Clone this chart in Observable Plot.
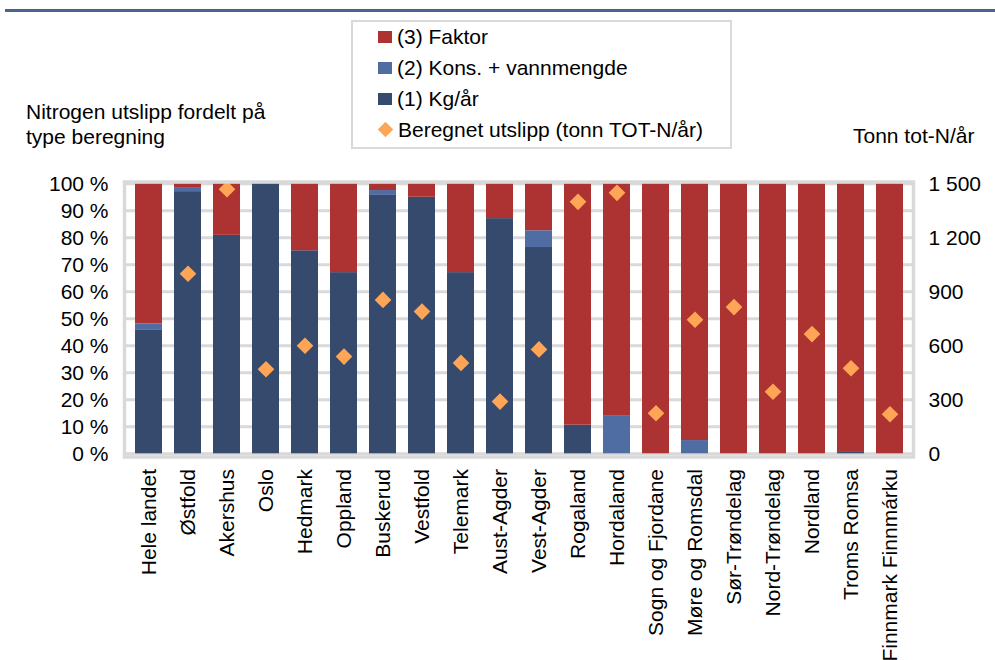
<!DOCTYPE html>
<html>
<head>
<meta charset="utf-8">
<script src="https://cdn.jsdelivr.net/npm/d3@7"></script>
<script src="https://cdn.jsdelivr.net/npm/@observablehq/plot@0.6"></script>
<style>
  html, body { margin: 0; padding: 0; background: #fff; }
  body { width: 995px; height: 660px; position: relative; overflow: hidden;
         font-family: "Liberation Sans", Arial, sans-serif; color: #000; }
  .abs { position: absolute; }
  #topline { left: 5px; top: 8.5px; width: 990px; height: 3px; background: #4a6491; }
  #lefttitle { left: 26px; top: 99px; font-size: 21px; line-height: 25px; white-space: nowrap; }
  #righttitle { left: 853px; top: 122.5px; font-size: 21px; line-height: 25px; white-space: nowrap; }
  #legend { left: 351px; top: 20px; width: 377px; height: 125px; border: 2px solid #d9d9d9; }
  .item { position: absolute; left: 25px; height: 27px; display: flex; align-items: center;
          font-size: 21px; white-space: nowrap; }
  .sw { width: 14px; height: 12px; margin-right: 5px; flex: none; }
  .dia { width: 11px; height: 11px; transform: rotate(45deg); margin: 0 7px 0 2px; flex: none; }
  #chart { left: 0; top: 0; }
</style>
</head>
<body>
<div id="topline" class="abs"></div>
<div id="lefttitle" class="abs">Nitrogen utslipp fordelt på<br>type beregning</div>
<div id="righttitle" class="abs">Tonn tot-N/år</div>
<div id="legend" class="abs"></div>
<div id="chart" class="abs"></div>
<script>
// ---- data ----
const categories = ["Hele landet","Østfold","Akershus","Oslo","Hedmark","Oppland","Buskerud","Vestfold","Telemark","Aust-Agder","Vest-Agder","Rogaland","Hordaland","Sogn og Fjordane","Møre og Romsdal","Sør-Trøndelag","Nord-Trøndelag","Nordland","Troms Romsa","Finnmark Finnmárku"];
const kgAar  = [45.7, 97.1, 80.9, 100, 75.2, 67.1, 95.7, 95.0, 67.1, 87.1, 76.4, 10.6, 0, 0, 0, 0, 0, 0, 0.5, 0];
const kons   = [2.4, 1.5, 0, 0, 0, 0, 1.8, 0, 0, 0, 6.2, 0, 13.9, 0, 4.9, 0, 0, 0, 0, 0];
const faktor = [51.9, 1.4, 19.1, 0, 24.8, 32.9, 2.5, 5.0, 32.9, 12.9, 17.4, 89.4, 86.1, 100, 95.1, 100, 100, 100, 99.5, 100];
const beregnet = [null, 1000, 1470, 470, 600, 540, 855, 790, 505, 290, 580, 1400, 1450, 225, 745, 815, 345, 665, 475, 220];
const seriesNames = ["(1) Kg/år", "(2) Kons. + vannmengde", "(3) Faktor"];
const seriesColors = ["#364a6d", "#4f6ca3", "#ad3333"];
const pointName = "Beregnet utslipp (tonn TOT-N/år)";
const pointColor = "#ffa556";
const leftTicks = [0,10,20,30,40,50,60,70,80,90,100];
const rightTicks = [0,300,600,900,1200,1500];
const rightMax = 1500;

// ---- tables ----
const seriesValues = [kgAar, kons, faktor];
const bars = [];
seriesValues.forEach((vals, s) => vals.forEach((v, i) => bars.push({cat: categories[i], series: seriesNames[s], value: v})));
const points = categories.map((c, i) => ({cat: c, value: beregnet[i]})).filter(d => d.value != null);

const fmt = d3.formatLocale({thousands: " ", grouping: [3], decimal: ","}).format(",d");

const chart = Plot.plot({
  width: 995,
  height: 660,
  marginLeft: 124,
  marginRight: 82,
  marginTop: 181.5,
  marginBottom: 203.5,
  style: {fontFamily: '"Liberation Sans", Arial, sans-serif', fontSize: "21px", color: "#000", background: "transparent"},
  x: {domain: categories, paddingInner: 0.31, paddingOuter: 0.2, label: null},
  y: {domain: [0, 100], insetTop: 1.8, insetBottom: 3.2, label: null},
  color: {domain: seriesNames, range: seriesColors},
  marks: [
    Plot.ruleY(leftTicks, {stroke: "#d9d9d9", strokeWidth: 3}),
    Plot.barY(bars, {x: "cat", y: "value", fill: "series", order: seriesNames}),
    Plot.dot(points, {x: "cat", y: d => d.value / rightMax * 100, symbol: "diamond2", r: 7.5, fill: pointColor, stroke: "none"}),
    Plot.frame({stroke: "#d9d9d9", strokeWidth: 3.5}),
    Plot.axisY(leftTicks, {anchor: "left", tickSize: 0, tickPadding: 16, tickFormat: d => d + " %", fontSize: 21, label: null}),
    Plot.axisY(rightTicks.map(v => v / rightMax * 100), {anchor: "right", tickSize: 0, tickPadding: 15, tickFormat: d => fmt(Math.round(d * rightMax / 100)), fontSize: 21, label: null}),
    Plot.axisX({tickRotate: -90, tickSize: 0, tickPadding: 12, fontSize: 21, label: null})
  ]
});
document.getElementById("chart").appendChild(chart);

// ---- legend ----
const legend = document.getElementById("legend");
const legendItems = [
  {name: seriesNames[2], color: seriesColors[2], type: "sq"},
  {name: seriesNames[1], color: seriesColors[1], type: "sq"},
  {name: seriesNames[0], color: seriesColors[0], type: "sq"},
  {name: pointName, color: pointColor, type: "dia"}
];
legendItems.forEach((it, i) => {
  const row = document.createElement("div");
  row.className = "item";
  row.style.top = (1 + i * 31) + "px";
  const sw = document.createElement("span");
  sw.className = it.type === "sq" ? "sw" : "dia";
  sw.style.background = it.color;
  row.appendChild(sw);
  const t = document.createElement("span");
  t.textContent = it.name;
  row.appendChild(t);
  legend.appendChild(row);
});
</script>
</body>
</html>
